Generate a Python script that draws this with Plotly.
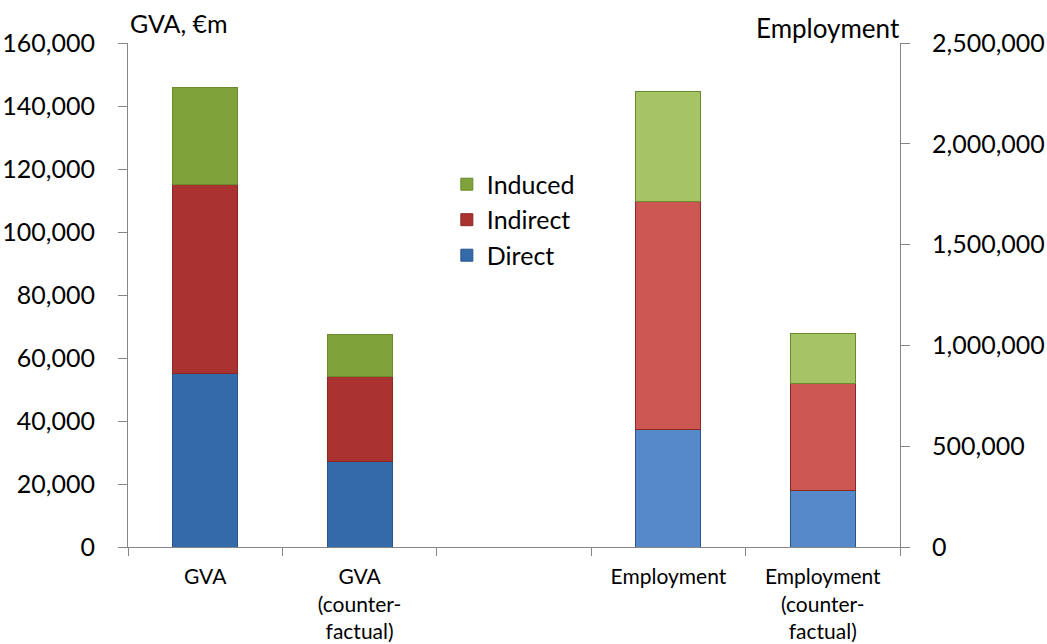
import plotly.graph_objects as go

categories = ["GVA", "GVA<br>(counter-<br>factual)", " ", "Employment",
              "Employment<br>(counter-<br>factual)"]

# GVA, EUR m (left axis)
gva_direct = [55000, 27000, None, None, None]
gva_indirect = [60000, 27000, None, None, None]
gva_induced = [31000, 13600, None, None, None]

# Employment, persons (right axis)
emp_direct = [None, None, None, 585000, 278000]
emp_indirect = [None, None, None, 1131000, 535000]
emp_induced = [None, None, None, 541000, 248000]

left_ticks = [0, 20000, 40000, 60000, 80000, 100000, 120000, 140000, 160000]
right_ticks = [0, 500000, 1000000, 1500000, 2000000, 2500000]

FONT = "Lato"
AXIS = "#868686"

gva_colors = {"Direct": "#336aaa", "Indirect": "#aa3230", "Induced": "#7fa23a"}
emp_colors = {"Direct": "#5689c9", "Indirect": "#cd5753", "Induced": "#a6c463"}
edge = {"Direct": "#2a5588", "Indirect": "#8a2826", "Induced": "#6a8a30"}

fig = go.Figure()

for name, vals in [("Direct", gva_direct), ("Indirect", gva_indirect),
                   ("Induced", gva_induced)]:
    fig.add_trace(go.Bar(x=categories, y=vals, name=name, legendgroup=name,
                         marker=dict(color=gva_colors[name],
                                     line=dict(color=edge[name], width=1)),
                         width=0.42, yaxis="y"))

for name, vals in [("Direct", emp_direct), ("Indirect", emp_indirect),
                   ("Induced", emp_induced)]:
    fig.add_trace(go.Bar(x=categories, y=vals, name=name, legendgroup=name,
                         showlegend=False,
                         marker=dict(color=emp_colors[name],
                                     line=dict(color=edge[name], width=1)),
                         width=0.42, yaxis="y2"))

fig.update_layout(
    width=1047, height=644,
    barmode="stack",
    paper_bgcolor="white", plot_bgcolor="white",
    margin=dict(l=128, r=147, t=43, b=97, autoexpand=False),
    font=dict(family=FONT, color="black"),
    legend=dict(x=0.413, y=0.765, xanchor="left", yanchor="top",
                traceorder="reversed", font=dict(size=25, family=FONT),
                bgcolor="rgba(0,0,0,0)", itemwidth=30, tracegroupgap=0),
    xaxis=dict(type="category", categoryorder="array", categoryarray=categories,
               range=[-0.5, 4.5], showline=True, linecolor=AXIS, linewidth=1,
               ticks="outside", tickson="boundaries", ticklen=8, tickcolor=AXIS,
               tickfont=dict(size=21, family=FONT), showgrid=False,
               ticklabelstandoff=11, automargin=False),
    yaxis=dict(range=[0, 160000], tickvals=left_ticks, tickformat=",",
               showline=True, linecolor=AXIS, linewidth=1, ticks="outside",
               ticklen=9, tickcolor=AXIS, showgrid=False, zeroline=False,
               tickfont=dict(size=25, family=FONT), ticklabelstandoff=18,
               automargin=False),
    yaxis2=dict(range=[0, 2500000], tickvals=right_ticks, tickformat=",",
                overlaying="y", side="right", showline=True, linecolor=AXIS,
                linewidth=1, ticks="outside", ticklen=9, tickcolor=AXIS,
                showgrid=False, zeroline=False,
                tickfont=dict(size=25, family=FONT), ticklabelstandoff=17,
                automargin=False),
    annotations=[
        dict(text="GVA, €m", xref="paper", yref="paper", x=0, y=1,
             xanchor="left", yanchor="middle", xshift=0, yshift=20,
             showarrow=False, font=dict(size=25, family=FONT)),
        dict(text="Employment", xref="paper", yref="paper", x=1, y=1,
             xanchor="right", yanchor="middle", xshift=2, yshift=15,
             showarrow=False, font=dict(size=26, family=FONT)),
    ],
)

# drop the default 8px page margin so the figure fills the window exactly
fig.write_html("out.html", config={"displayModeBar": False},
               post_script="document.body.style.margin='0';"
                           "document.body.style.overflow='hidden';")
